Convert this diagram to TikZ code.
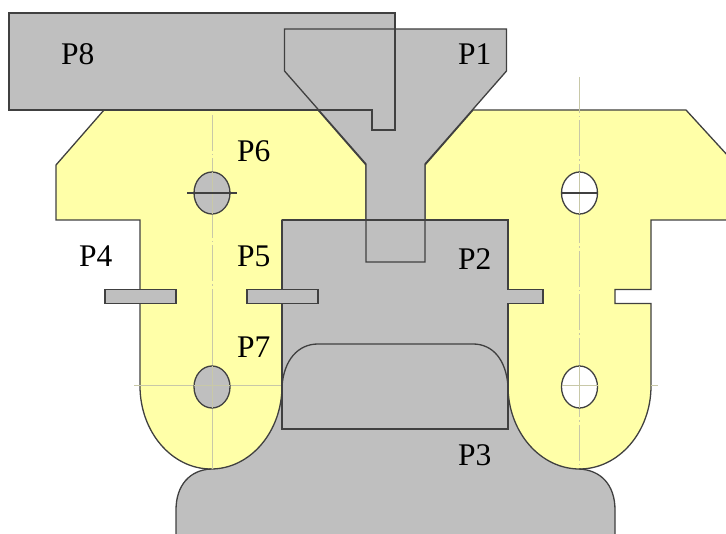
\documentclass[tikz,border=0pt]{standalone}
\usepackage{fontspec}
\setmainfont{Liberation Serif}
\definecolor{partgray}{HTML}{BFBFBF}
\definecolor{partyellow}{HTML}{FFFFA8}
\definecolor{edge}{HTML}{404040}
\definecolor{axisline}{HTML}{C8C8A8}
\tikzset{
  outline/.style={draw=edge,line width=1.3pt,line join=miter},
  grayfill/.style={fill=partgray},
  yellowpart/.style={fill=partyellow,draw=edge,line width=1.3pt},
  axisdash/.style={draw=axisline,line width=1pt,dash pattern=on 36pt off 3pt on 1.5pt off 3pt},
  axissolid/.style={draw=axisline,line width=1pt},
  hole/.style={draw=edge,line width=1.3pt},
  lbl/.style={anchor=base west,inner sep=0pt,font=\fontsize{31.5}{32}\selectfont}
}
\begin{document}
\begin{tikzpicture}[x=1pt,y=-1pt]
\useasboundingbox (0,0) rectangle (726,534);
\clip (0,0) rectangle (726,534);
% P3 fill
\fill[grayfill] (176,540) -- (176,510) .. controls (176,485) and (190,470) .. (211,469)
  -- (282,386) .. controls (284,360) and (298,344) .. (318,344) -- (473,344)
  .. controls (493,344) and (506,360) .. (508,386)
  -- (579,469) .. controls (601,470) and (615,485) .. (615,510) -- (615,540) -- cycle;
% yellow pieces
\path[yellowpart] (104,110) -- (318,110) -- (366,165) -- (366,220) -- (282,220) -- (282,386)
  .. controls (282,431.8) and (250.2,469) .. (211,469)
  .. controls (171.8,469) and (140,431.8) .. (140,386)
  -- (140,220) -- (56,220) -- (56,165) -- cycle;
\path[yellowpart] (473,110) -- (425,165) -- (425,220) -- (508,220) -- (508,386)
  .. controls (508,431.8) and (540.2,469) .. (579.5,469)
  .. controls (618.8,469) and (651,431.8) .. (651,386)
  -- (651,303.5) -- (615,303.5) -- (615,289.5) -- (651,289.5) -- (651,220) -- (740,220) -- (740,169) -- (686,110) -- cycle;
% axes
\path[axisdash] (212,115) -- (212,290);
\path[axissolid] (212,290) -- (212,469);
\path[axissolid] (134,386) -- (282,386);
\path[axisdash] (579,77) -- (579,466);
\path[axissolid] (651,386) -- (658,386);
% holes
\path[hole,fill=partgray] (212,193) ellipse[x radius=18,y radius=21];
\path[hole,fill=partgray] (212,387) ellipse[x radius=18,y radius=21];
\path[hole,fill=white] (579.5,193) ellipse[x radius=18,y radius=21];
\path[hole,fill=white] (579.5,387) ellipse[x radius=18,y radius=21];
\path[axissolid] (212,366) -- (212,408) (194,386) -- (230,386);
\path[axissolid] (579.5,366) -- (579.5,408) (561.5,386) -- (597.5,386);
\path[axissolid] (579.5,172) -- (579.5,214);
\path[axissolid] (212,172) -- (212,214);
\draw[outline] (187,193) -- (237,193);
\draw[outline] (561.5,193) -- (597.5,193);
% fills of P2, P8, P1 and the two tabs
\fill[grayfill] (282,220) -- (508,220) -- (508,289.5) -- (543,289.5) -- (543,303.5) -- (508,303.5) -- (508,429) -- (282,429) -- cycle;
\fill[grayfill] (9,13) -- (395,13) -- (395,130) -- (372,130) -- (372,110) -- (9,110) -- cycle;
\fill[grayfill] (284.5,29) -- (506.5,29) -- (506.5,71) -- (425,164) -- (425,262) -- (366,262) -- (366,164) -- (284.5,71) -- cycle;
\path[grayfill] (105,289.5) rectangle (176,303.5);
\path[grayfill] (247,289.5) rectangle (318,303.5);
% outlines
\draw[outline] (282,220) -- (508,220) -- (508,289.5) -- (543,289.5) -- (543,303.5) -- (508,303.5) -- (508,429) -- (282,429) -- (282,303.5);
\draw[outline] (282,289.5) -- (282,220);
\draw[outline] (9,13) -- (395,13) -- (395,130) -- (372,130) -- (372,110) -- (9,110) -- cycle;
\draw[outline] (284.5,29) -- (506.5,29) -- (506.5,71) -- (425,164) -- (425,262) -- (366,262) -- (366,164) -- (284.5,71) -- cycle;
\draw[outline] (105,289.5) rectangle (176,303.5);
\draw[outline] (247,289.5) rectangle (318,303.5);
\draw[outline] (176,540) -- (176,510) .. controls (176,485) and (190,470) .. (211,469);
\draw[outline] (615,540) -- (615,510) .. controls (615,485) and (601,470) .. (579,469);
\draw[outline] (282,386) .. controls (284,360) and (298,344) .. (318,344) -- (473,344)
  .. controls (493,344) and (506,360) .. (508,386);
% labels
\node[lbl] (p8) at (61,65) {P8};
\node[lbl] (p1) at (458,65) {P1};
\node[lbl] (p6) at (237,162) {P6};
\node[lbl] (p4) at (79,267) {P4};
\node[lbl] (p5) at (237,267) {P5};
\node[lbl] (p2) at (458,270) {P2};
\node[lbl] (p7) at (237,358) {P7};
\node[lbl] (p3) at (458,466) {P3};
\end{tikzpicture}
\end{document}
